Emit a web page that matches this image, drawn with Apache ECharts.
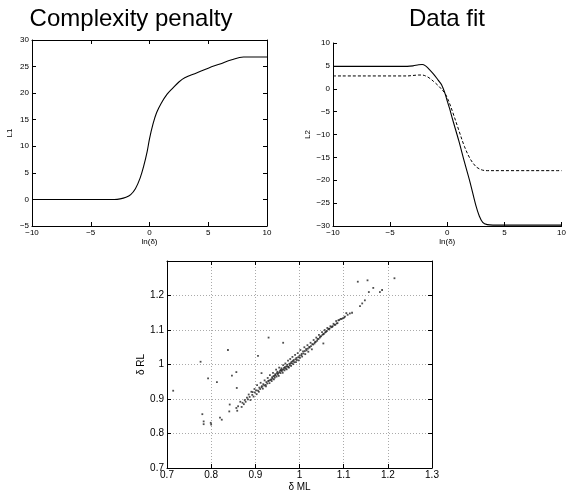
<!DOCTYPE html>
<html>
<head>
<meta charset="utf-8">
<script src="https://cdn.jsdelivr.net/npm/echarts@6/dist/echarts.min.js"></script>
<style>html,body{margin:0;padding:0;background:#fff;}#c{width:569px;height:493px;}</style>
</head>
<body>
<div id="c"></div>
<script>
// ---- Data ----
const l1X = [-10,-5,-3,-2.5,-2,-1.6,-1.2,-0.8,-0.5,-0.2,0,0.3,0.6,1,1.5,2,2.5,3,4,5,6,7,8,9,10];
const l1Values = [0,0,0,0.1,0.4,0.9,2.0,4.0,6.2,9.0,11.4,14.2,16.3,18.1,19.8,21.0,22.1,22.9,23.8,24.7,25.5,26.3,26.8,26.8,26.8];

const l2X = [-10,-3.5,-3,-2.5,-2.2,-1.9,-1.6,-1.2,-0.8,-0.5,-0.2,0,0.2,0.5,1,1.5,2,2.5,2.8,3.1,3.5,4,10];
const l2Solid = [4.9,4.9,5.0,5.25,5.3,5.0,4.3,3.2,1.9,0.9,-1.0,-2.7,-4.3,-7.0,-11.3,-16.0,-20.5,-25.5,-27.8,-29.2,-29.7,-29.8,-29.8];
const l2Dashed = [2.8,2.8,2.9,3.0,3.0,2.8,2.4,1.6,0.7,-0.1,-1.0,-2.0,-3.2,-5.3,-9.0,-12.6,-15.3,-17.0,-17.5,-17.8,-17.9,-17.9,-17.9];

const l1Ticks = [-5,0,5,10,15,20,25,30];
const l2Ticks = [-30,-25,-20,-15,-10,-5,0,5,10];
const lnTicks = [-10,-5,0,5,10];
const deltaTicks = [0.7,0.8,0.9,1,1.1,1.2,1.3];

const deltaOutliers = [
 [0.714,0.924],[0.776,1.008],[0.780,0.856],[0.783,0.835],[0.783,0.827],[0.793,0.960],
 [0.799,0.831],[0.800,0.826],[0.813,0.949],[0.820,0.846],[0.824,0.840],[0.838,1.042],
 [0.841,0.864],[0.842,0.884],[0.847,0.968],[0.857,0.978],[0.858,0.932],[0.906,1.025],
 [0.930,1.078],[0.963,1.063],[0.914,0.975],[1.054,1.061]
];
const deltaBand = [
 [0.857,0.874],[0.861,0.879],[0.859,0.866],[0.866,0.892],[0.869,0.877],[0.871,0.889],[0.874,0.885],
 [0.876,0.897],[0.878,0.892],[0.881,0.904],[0.883,0.899],[0.885,0.913],[0.887,0.906],[0.889,0.897],
 [0.891,0.921],[0.893,0.912],[0.894,0.920],[0.896,0.907],[0.898,0.929],[0.899,0.919],[0.902,0.925],
 [0.903,0.914],[0.904,0.940],[0.906,0.924],[0.908,0.921],[0.909,0.933],[0.911,0.929],[0.912,0.947],
 [0.914,0.934],[0.915,0.937],[0.917,0.930],[0.918,0.943],[0.920,0.939],[0.921,0.954],[0.923,0.941],
 [0.924,0.937],[0.925,0.949],[0.927,0.945],[0.928,0.961],[0.929,0.952],[0.931,0.953],[0.932,0.946],
 [0.933,0.969],[0.934,0.955],[0.936,0.957],[0.937,0.952],[0.938,0.963],[0.939,0.959],[0.940,0.976],
 [0.941,0.966],[0.942,0.957],[0.943,0.967],[0.944,0.962],[0.945,0.972],[0.946,0.969],[0.947,0.985],
 [0.948,0.965],[0.949,0.975],[0.950,0.979],[0.951,0.971],[0.952,0.975],[0.953,0.967],[0.954,0.991],
 [0.955,0.978],[0.956,0.982],[0.957,0.975],[0.958,0.984],[0.959,0.989],[0.960,0.981],[0.961,0.985],
 [0.962,0.976],[0.963,0.998],[0.964,0.986],[0.965,0.990],[0.966,0.983],[0.967,0.992],[0.968,1.003],
 [0.969,0.988],[0.970,0.994],[0.971,0.986],[0.972,0.999],[0.973,0.994],[0.974,1.011],[0.975,0.993],
 [0.976,0.991],[0.977,1.002],[0.978,0.998],[0.979,1.016],[0.980,1.004],[0.981,0.996],[0.982,1.008],
 [0.983,1.003],[0.984,1.022],[0.985,1.010],[0.986,1.001],[0.987,1.013],[0.988,1.007],[0.990,1.028],
 [0.991,1.015],[0.992,1.007],[0.993,1.019],[0.994,1.013],[0.996,1.033],[0.997,1.021],[0.998,1.012],
 [1.000,1.025],[1.001,1.019],[1.002,1.042],[1.004,1.027],[1.005,1.031],[1.006,1.023],[1.008,1.038],
 [1.009,1.032],[1.011,1.050],[1.012,1.039],[1.013,1.030],[1.015,1.045],[1.016,1.041],[1.018,1.056],
 [1.019,1.046],[1.020,1.037],[1.022,1.051],[1.023,1.049],[1.025,1.063],[1.026,1.053],[1.028,1.044],
 [1.029,1.059],[1.031,1.058],[1.032,1.071],[1.034,1.061],[1.035,1.065],[1.037,1.066],[1.038,1.078],
 [1.040,1.069],[1.041,1.074],[1.043,1.074],[1.044,1.086],[1.046,1.078],[1.047,1.081],[1.049,1.082],
 [1.051,1.094],[1.052,1.086],[1.054,1.088],[1.055,1.089],[1.057,1.100],[1.058,1.093],[1.060,1.095],
 [1.062,1.097],[1.063,1.106],[1.065,1.102],[1.067,1.103],[1.068,1.104],[1.070,1.111],[1.072,1.108],
 [1.074,1.109],[1.075,1.111],[1.077,1.118],[1.079,1.115],[1.081,1.115],[1.083,1.126],[1.084,1.119],
 [1.086,1.120],[1.088,1.128],[1.090,1.129],[1.093,1.132],[1.095,1.132],[1.098,1.134],[1.101,1.136],
 [1.103,1.139],[1.106,1.149],[1.109,1.144],[1.114,1.148],[1.119,1.150]
];
const deltaTop = [
 [1.132,1.240],[1.154,1.244],[1.157,1.210],[1.167,1.222],[1.182,1.210],[1.187,1.216],
 [1.215,1.250],[1.148,1.186],[1.142,1.177],[1.137,1.169]
];

// ---- Chart ----
const FONT = '"Liberation Sans", Arial, Helvetica, sans-serif';
const minus = v => String(v).replace('-', '\u2212');
const chart = echarts.init(document.getElementById('c'), null, {renderer: 'canvas'});

function baseAxis(extra) {
  return Object.assign({
    axisLine: {show: true, onZero: false, lineStyle: {color: '#000', width: 1}},
    axisTick: {show: true, inside: true, length: 4, lineStyle: {color: '#000'}},
    splitLine: {show: false},
    axisLabel: {color: '#000', fontSize: 8, fontFamily: FONT, formatter: minus, margin: 3},
    nameTextStyle: {color: '#000', fontSize: 8, fontFamily: FONT}
  }, extra);
}
function ghostAxis(extra) {
  return Object.assign({
    axisLine: {show: true, onZero: false, lineStyle: {color: '#000', width: 1}},
    axisTick: {show: true, inside: true, length: 4, lineStyle: {color: '#000'}},
    axisLabel: {show: false},
    splitLine: {show: false}
  }, extra);
}
const dotted = {show: true, lineStyle: {color: '#aaa', type: [1, 2], width: 1}};

const option = {
  animation: false,
  backgroundColor: '#fff',
  textStyle: {fontFamily: FONT},
  grid: [
    {left: 32, right: 302, top: 40, bottom: 267},
    {left: 333, right: 5, top: 43, bottom: 267},
    {left: 167, right: 137, top: 261, bottom: 25}
  ],
  graphic: [
    {type: 'text', x: 131, y: 19, style: {text: 'Complexity penalty', fontSize: 24, fontFamily: FONT, fill: '#000', textAlign: 'center', textVerticalAlign: 'middle'}},
    {type: 'text', x: 447, y: 19, style: {text: 'Data fit', fontSize: 24, fontFamily: FONT, fill: '#000', textAlign: 'center', textVerticalAlign: 'middle'}}
  ],
  xAxis: [
    baseAxis({gridIndex: 0, type: 'value', min: lnTicks[0], max: lnTicks[lnTicks.length-1], interval: 5, name: 'ln(\u03b4)', nameLocation: 'middle', nameGap: 11}),
    baseAxis({gridIndex: 1, type: 'value', min: lnTicks[0], max: lnTicks[lnTicks.length-1], interval: 5, name: 'ln(\u03b4)', nameLocation: 'middle', nameGap: 11}),
    baseAxis({gridIndex: 2, type: 'value', min: deltaTicks[0], max: deltaTicks[deltaTicks.length-1], interval: 0.1, name: '\u03b4 ML', nameLocation: 'middle', nameGap: 14,
      splitLine: dotted,
      axisLabel: {color: '#000', fontSize: 10, fontFamily: FONT, margin: 2, formatter: v => String(+v.toFixed(1))},
      nameTextStyle: {color: '#000', fontSize: 10, fontFamily: FONT}}),
    ghostAxis({gridIndex: 0, type: 'value', position: 'top', min: -10, max: 10, interval: 5}),
    ghostAxis({gridIndex: 2, type: 'value', position: 'top', min: 0.7, max: 1.3, interval: 0.1})
  ],
  yAxis: [
    baseAxis({gridIndex: 0, type: 'value', min: l1Ticks[0], max: l1Ticks[l1Ticks.length-1], interval: 5, name: 'L1', nameLocation: 'middle', nameGap: 18}),
    baseAxis({gridIndex: 1, type: 'value', min: l2Ticks[0], max: l2Ticks[l2Ticks.length-1], interval: 5, name: 'L2', nameLocation: 'middle', nameGap: 21}),
    baseAxis({gridIndex: 2, type: 'value', min: deltaTicks[0], max: deltaTicks[deltaTicks.length-1], interval: 0.1, name: '\u03b4 RL', nameLocation: 'middle', nameGap: 21,
      splitLine: dotted,
      axisLabel: {color: '#000', fontSize: 10, fontFamily: FONT, margin: 3, formatter: v => (Math.abs(v - 1.3) < 1e-6 ? '' : String(+v.toFixed(1)))},
      nameTextStyle: {color: '#000', fontSize: 10, fontFamily: FONT}}),
    ghostAxis({gridIndex: 0, type: 'value', position: 'right', min: -5, max: 30, interval: 5}),
    ghostAxis({gridIndex: 2, type: 'value', position: 'right', min: 0.7, max: 1.3, interval: 0.1})
  ],
  series: [
    {type: 'line', xAxisIndex: 0, yAxisIndex: 0, data: l1X.map((x, i) => [x, l1Values[i]]),
      showSymbol: false, smooth: 0.35, lineStyle: {color: '#000', width: 1.1}},
    {type: 'line', xAxisIndex: 1, yAxisIndex: 1, data: l2X.map((x, i) => [x, l2Solid[i]]),
      showSymbol: false, smooth: 0.35, lineStyle: {color: '#000', width: 1.1}},
    {type: 'line', xAxisIndex: 1, yAxisIndex: 1, data: l2X.map((x, i) => [x, l2Dashed[i]]),
      showSymbol: false, smooth: 0.35, lineStyle: {color: '#000', width: 1, type: [3, 2]}},
    {type: 'scatter', xAxisIndex: 2, yAxisIndex: 2, data: deltaBand.concat(deltaOutliers, deltaTop),
      symbol: 'rect', symbolSize: 1.8, itemStyle: {color: '#222'}}
  ]
};
chart.setOption(option);
</script>
</body>
</html>
